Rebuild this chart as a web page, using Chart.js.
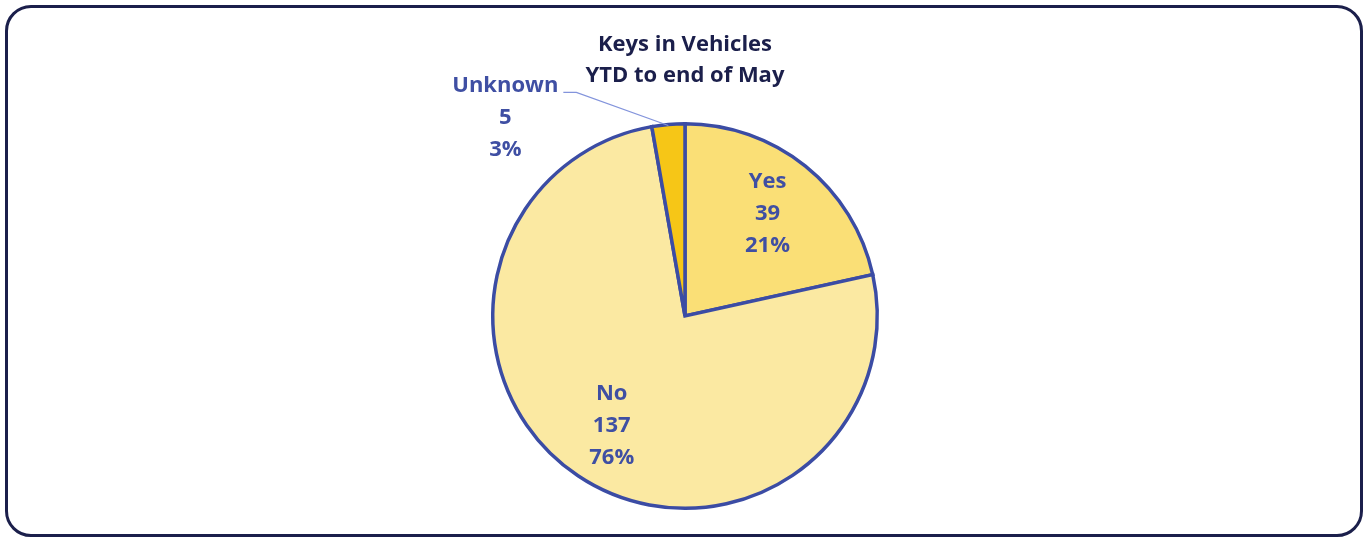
<!DOCTYPE html>
<html>
<head>
<meta charset="utf-8">
<script src="https://cdn.jsdelivr.net/npm/chart.js@4/dist/chart.umd.min.js"></script>
<style>
  html, body { margin: 0; padding: 0; background: #fff; }
  #frame {
    position: absolute; left: 5px; top: 5px; width: 1352px; height: 526px;
    border: 3px solid #1b1f4b; border-radius: 26px; box-sizing: content-box;
  }
  #wrap { position: absolute; left: 0; top: 0; width: 1368px; height: 537px; }
  #pie { display: block; }
</style>
</head>
<body>
<div id="frame"></div>
<div id="wrap"><canvas id="pie" width="1368" height="537"></canvas></div>
<script>
// data
const categories = ["Yes", "No", "Unknown"];
const counts = [39, 137, 5];
const pctLabels = ["21%", "76%", "3%"];
const sliceColors = ["#fadf76", "#fbe9a2", "#f6c617"];
const titleLines = ["Keys in Vehicles", "YTD to end of May"];

const LABEL_COLOR = "#3f4fa3";
const TITLE_COLOR = "#1b1f4b";
const FONT = "bold 22px 'Open Sans', sans-serif";

// draws title, data labels and the leader line for the small slice
const labelPlugin = {
  id: "pieLabels",
  afterDraw(chart) {
    const ctx = chart.ctx;
    ctx.save();
    ctx.font = FONT;
    ctx.textAlign = "center";
    ctx.textBaseline = "middle";

    // title
    ctx.fillStyle = TITLE_COLOR;
    titleLines.forEach((t, i) => ctx.fillText(t, 685, 45 + i * 31));

    const meta = chart.getDatasetMeta(0);
    meta.data.forEach((arc, i) => {
      const mid = (arc.startAngle + arc.endAngle) / 2;
      const lines = [categories[i], String(counts[i]), pctLabels[i]];
      let lx, ly;
      if (i === 2) {
        // outside label with leader line
        const ax = arc.x + Math.cos(mid) * arc.outerRadius;
        const ay = arc.y + Math.sin(mid) * arc.outerRadius;
        ctx.strokeStyle = "#8394dc";
        ctx.lineWidth = 1.2;
        ctx.beginPath();
        ctx.moveTo(ax, ay + 1);
        ctx.lineTo(ax - 92, ay - 32);
        ctx.lineTo(ax - 105, ay - 32);
        ctx.stroke();
        lx = ax - 163;
        ly = ay - 7;
      } else {
        const r = arc.outerRadius * 0.685;
        lx = arc.x + Math.cos(mid) * r;
        ly = arc.y + Math.sin(mid) * r;
      }
      ctx.fillStyle = LABEL_COLOR;
      lines.forEach((t, k) => ctx.fillText(t, lx, ly + (k - 1) * 32));
    });
    ctx.restore();
  }
};

new Chart(document.getElementById("pie"), {
  type: "pie",
  data: {
    labels: categories,
    datasets: [{
      data: counts,
      backgroundColor: sliceColors,
      borderColor: "#3b4ca4",
      borderWidth: 3.5,
      borderJoinStyle: "miter"
    }]
  },
  options: {
    responsive: false,
    animation: false,
    devicePixelRatio: 1,
    layout: { padding: { top: 122, bottom: 27, left: 2, right: 0 } },
    plugins: {
      legend: { display: false },
      title: { display: false },
      tooltip: { enabled: false }
    }
  },
  plugins: [labelPlugin]
});
</script>
</body>
</html>
